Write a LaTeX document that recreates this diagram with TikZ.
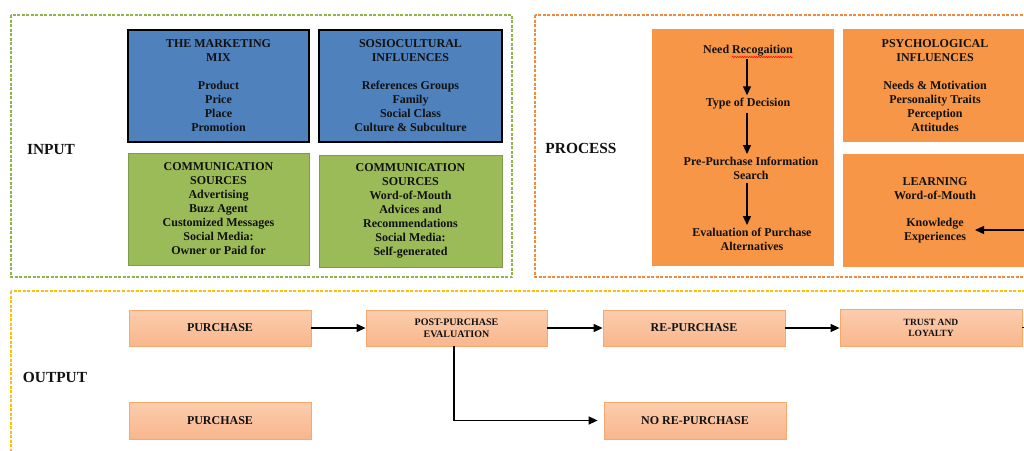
\documentclass[tikz,border=0pt]{standalone}
\usepackage{fontspec}
\setmainfont{Liberation Serif}
\usetikzlibrary{arrows.meta,decorations.pathmorphing}
\definecolor{cblue}{HTML}{4F81BD}
\definecolor{cgreen}{HTML}{9BBB59}
\definecolor{cgreenb}{HTML}{7F9A48}
\definecolor{cgreenf}{HTML}{8FB547}
\definecolor{corange}{HTML}{F79646}
\definecolor{corangef}{HTML}{F28A3C}
\definecolor{cgold}{HTML}{FFC000}
\definecolor{cpeachtop}{HTML}{FBCDAE}
\definecolor{cpeachbot}{HTML}{F9B68C}
\definecolor{cpeachb}{HTML}{F6A86F}
\definecolor{ctext}{HTML}{111111}
\begin{document}
\begin{tikzpicture}[x=1pt,y=-1pt,
  every node/.style={text=ctext},
  txt/.style={font=\fontsize{12}{14}\selectfont\bfseries, align=center, inner sep=3pt},
  biglabel/.style={font=\fontsize{15.4}{17}\selectfont\bfseries, inner sep=0pt},
  bluebox/.style={txt, draw=black, line width=1.6pt, fill=cblue, minimum height=112pt},
  greenbox/.style={txt, draw=cgreenb, line width=0.8pt, fill=cgreen, minimum height=112pt},
  orangebox/.style={txt, fill=corange, minimum height=113pt, minimum width=184pt},
  outbox/.style={txt, draw=cpeachb, line width=0.8pt, top color=cpeachtop, bottom color=cpeachbot, minimum width=182pt, minimum height=36pt},
  frame/.style={dash pattern=on 3pt off 1.5pt, line width=1.3pt},
  arr/.style={-{Triangle[length=9pt,width=8pt]}, line width=1.3pt, black},
]
\useasboundingbox (0,0) rectangle (1024,450);
\clip (0,0) rectangle (1024,450);
\fill[white] (0,0) rectangle (1024,450);

% frames
\draw[frame, color=cgreenf] (11,15) rectangle (512,277);
\draw[frame, color=corangef] (535,15) rectangle (1050,277);
\draw[frame, color=cgold] (11,291) rectangle (1050,470);

% labels
\node[biglabel] (lin) at (51,150) {INPUT};
\node[biglabel] (lpr) at (581,148) {PROCESS};
\node[biglabel] (lout) at (55,377) {OUTPUT};

% input boxes
\node[bluebox, minimum width=181pt] (mm) at (218.5,86) {THE MARKETING\\ MIX\\[14pt] Product\\ Price\\ Place\\ Promotion};
\node[bluebox, minimum width=183pt] (soc) at (410.5,86) {SOSIOCULTURAL\\ INFLUENCES\\[14pt] References Groups\\ Family\\ Social Class\\ Culture \& Subculture};
\node[greenbox, minimum width=181pt] (cs1) at (218.5,209) {COMMUNICATION\\ SOURCES\\ Advertising\\ Buzz Agent\\ Customized Messages\\ Social Media:\\ Owner or Paid for};
\node[greenbox, minimum width=183pt] (cs2) at (410.5,211) {COMMUNICATION\\ SOURCES\\ Word-of-Mouth\\ Advices and\\ Recommendations\\ Social Media:\\ Self-generated};

% process boxes
\node[fill=corange, minimum width=182pt, minimum height=237pt, inner sep=0pt] (dec) at (743,147.5) {};
\node[orangebox] (psy) at (935,85.5) {PSYCHOLOGICAL\\ INFLUENCES\\[14pt] Needs \& Motivation\\ Personality Traits\\ Perception\\ Attitudes};
\node[orangebox] (lrn) at (935,210.5) {LEARNING\\ Word-of-Mouth\\[13.5pt] Knowledge\\ Experiences};

\node[txt] (s1) at (748,50.5) {Need Recogaition};
\node[txt] (s2) at (748,104) {Type of Decision};
\node[txt] (s3) at (751,168.5) {Pre-Purchase Information\\ Search};
\node[txt] (s4) at (752,239.5) {Evaluation of Purchase\\ Alternatives};
\coordinate (col) at (747,0);
\draw[red, line width=0.5pt, decorate, decoration={snake, amplitude=0.7pt, segment length=2.4pt}] (732,57) -- (793,57);
\draw[arr] (s1.south -| col) -- (s2.north -| col);
\draw[arr] (s2.south -| col) -- (s3.north -| col);
\draw[arr] (s3.south -| col) -- (s4.north -| col);

\coordinate (lrnsrc) at (1030,230);
\coordinate (lrntip) at (975,230);
\draw[arr] (lrnsrc) -- (lrntip);

% output boxes
\node[outbox] (p1) at (220,328) {PURCHASE};
\node[outbox, minimum width=181pt, font=\fontsize{10}{12}\selectfont\bfseries] (post) at (456.5,328) {POST-PURCHASE\\ EVALUATION};
\node[outbox] (rep) at (694,328) {RE-PURCHASE};
\node[outbox, minimum height=37pt, font=\fontsize{9.5}{11}\selectfont\bfseries] (trust) at (931,327.5) {TRUST AND\\ LOYALTY};
\node[outbox, minimum height=37pt] (p2) at (220,420.5) {PURCHASE};
\node[outbox, minimum height=37pt] (norep) at (695,420.5) {NO RE-PURCHASE};

\draw[arr] (p1.east) -- (post.west);
\draw[arr] (post.east) -- (rep.west);
\draw[arr] (rep.east) -- (trust.west |- rep.east);
\coordinate (trustout) at (1030,327.5);
\draw[line width=1.3pt] (trust.east) -- (trustout);
\coordinate (elb) at (454,0);
\draw[arr, shorten >=6pt] (post.south -| elb) |- (norep.west);
\end{tikzpicture}
\end{document}
